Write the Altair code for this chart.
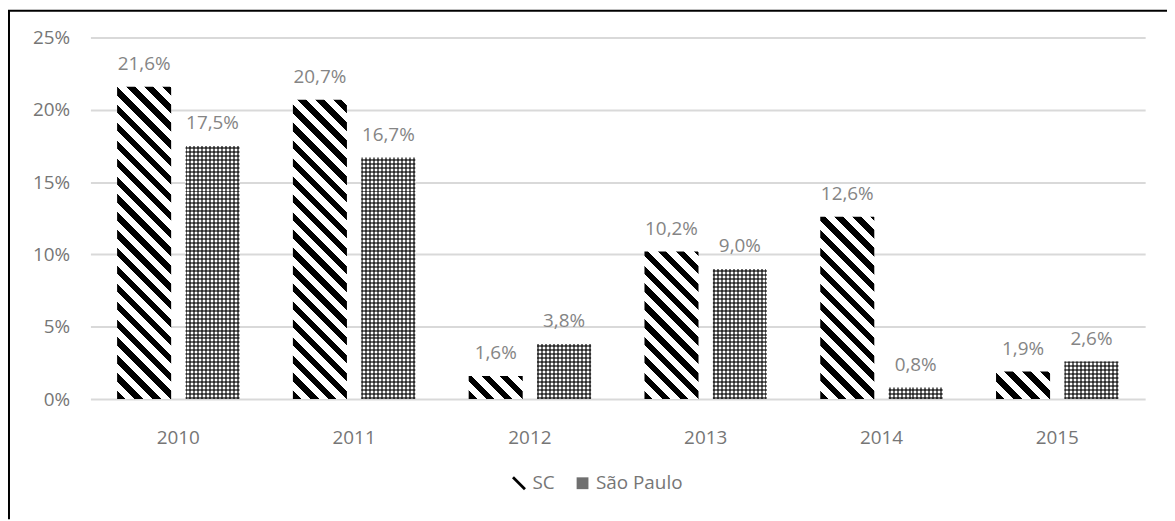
import math
import altair as alt
import pandas as pd

# ---- data ----
years = ["2010", "2011", "2012", "2013", "2014", "2015"]
series = ["SC", "São Paulo"]
sc_values = [21.6, 20.7, 1.6, 10.2, 12.6, 1.9]
sp_values = [17.5, 16.7, 3.8, 9.0, 0.8, 2.6]
y_ticks = [0, 5, 10, 15, 20, 25]

rows = []
for yr, a, b in zip(years, sc_values, sp_values):
    rows.append({"year": yr, "series": "SC", "value": a})
    rows.append({"year": yr, "series": "São Paulo", "value": b})
df = pd.DataFrame(rows)

# ---- layout / style ----
W, H = 1062, 364
YMAX = 25
PAD = {"left": 83, "top": 28, "right": 22, "bottom": 121}
FONT = "Open Sans"
FS = 19
AXIS_COLOR = "#767676"
LABEL_COLOR = "#858585"
P_INNER, P_OUTER = 0.21, 0.39
step_off = (W / len(years)) / (len(series) - P_INNER + 2 * P_OUTER)
BAR_W = step_off * (1 - P_INNER)


def r(v):
    return round(v, 5)


def diag_gradient(h, w, period=18.0, frac=0.47):
    """Diagonal '\\' stripes, black on white, with constant pixel period."""
    L = w + h
    dp = period / L
    k = L / (w * w + h * h)
    stops = []
    i = 0
    while i * dp < 1:
        s = i * dp
        e = min(s + frac * dp, 1)
        stops += [
            {"offset": r(s), "color": "white"},
            {"offset": r(s), "color": "black"},
            {"offset": r(e), "color": "black"},
            {"offset": r(e), "color": "white"},
        ]
        i += 1
    return {"gradient": "linear", "x1": 0, "y1": 1, "x2": r(k * w), "y2": r(1 - k * h), "stops": stops}


def line_gradient(length, vertical, dark, light, period=4.0, frac=0.5):
    dp = period / length
    stops = []
    i = 0
    while i * dp < 1:
        s = i * dp
        e = min(s + frac * dp, 1)
        stops += [
            {"offset": r(s), "color": light},
            {"offset": r(s), "color": dark},
            {"offset": r(e), "color": dark},
            {"offset": r(e), "color": light},
        ]
        i += 1
    if vertical:
        return {"gradient": "linear", "x1": 0, "y1": 1, "x2": 0, "y2": 0, "stops": stops}
    return {"gradient": "linear", "x1": 0, "y1": 0, "x2": 1, "y2": 0, "stops": stops}


base = alt.Chart(df)

x_enc = alt.X(
    "year:N",
    scale=alt.Scale(domain=years, paddingInner=0, paddingOuter=0),
    axis=alt.Axis(
        title=None, domain=False, ticks=False, labelPadding=30,
        labelFont=FONT, labelFontSize=FS, labelColor=AXIS_COLOR, labelAngle=0,
    ),
)
xoff_enc = alt.XOffset(
    "series:N", scale=alt.Scale(domain=series, paddingInner=P_INNER, paddingOuter=P_OUTER)
)
y_enc = alt.Y(
    "value:Q",
    scale=alt.Scale(domain=[0, YMAX], nice=False, zero=True),
    axis=alt.Axis(
        title=None, values=y_ticks, labelExpr="datum.value + '%'",
        domain=False, ticks=False, grid=True, gridColor="#d9d9d9", gridWidth=2,
        labelPadding=21, labelFont=FONT, labelFontSize=FS, labelColor=AXIS_COLOR,
    ),
)

layers = []
for yr, a, b in zip(years, sc_values, sp_values):
    # SC: diagonal stripes
    h_a = a / YMAX * H
    layers.append(
        base.transform_filter((alt.datum.year == yr) & (alt.datum.series == "SC"))
        .mark_bar(fill=diag_gradient(h_a, BAR_W), strokeWidth=0)
        .encode(x=x_enc, xOffset=xoff_enc, y=y_enc)
    )
    # São Paulo: fine grid of dots
    h_b = b / YMAX * H
    sp_filter = (alt.datum.year == yr) & (alt.datum.series == "São Paulo")
    layers.append(
        base.transform_filter(sp_filter)
        .mark_bar(fill=line_gradient(BAR_W, False, "#6a6a6a", "#ffffff"), strokeWidth=0)
        .encode(x=x_enc, xOffset=xoff_enc, y=y_enc)
    )
    layers.append(
        base.transform_filter(sp_filter)
        .mark_bar(fill=line_gradient(h_b, True, "rgba(0,0,0,0.58)", "rgba(0,0,0,0)"), strokeWidth=0)
        .encode(x=x_enc, xOffset=xoff_enc, y=y_enc)
    )

labels = (
    base.transform_calculate(
        label="replace(format(datum.value, '.1f'), '.', ',') + '%'"
    )
    .mark_text(dy=-17, baseline="alphabetic", font=FONT, fontSize=FS, color=LABEL_COLOR)
    .encode(x=x_enc, xOffset=xoff_enc, y=y_enc, text="label:N")
)

sc_path = "M-1,-0.72L-0.72,-1L1,0.72L0.72,1Z"
sq_path = "M-0.85,-0.85H0.85V0.85H-0.85Z"
legend_def = alt.Legend(title=None)
legend_layer = base.mark_point(filled=True, opacity=0).encode(
    x=x_enc,
    y=y_enc,
    color=alt.Color("series:N", scale=alt.Scale(domain=series, range=["#000000", "#6f6f6f"]), legend=legend_def),
    shape=alt.Shape("series:N", scale=alt.Scale(domain=series, range=[sc_path, sq_path]), legend=legend_def),
)

frame_df = pd.DataFrame({"k": [0]})
border_left = alt.Chart(frame_df).mark_rule(color="#000000", strokeWidth=2).encode(
    x=alt.value(-82), y=alt.value(-27), y2=alt.value(H + PAD["bottom"])
)
border_top = alt.Chart(frame_df).mark_rule(color="#000000", strokeWidth=2).encode(
    x=alt.value(-83), x2=alt.value(W + PAD["right"]), y=alt.value(-27)
)

chart = (
    alt.layer(*layers, labels, legend_layer, border_left, border_top)
    .properties(width=W, height=H, padding=PAD, autosize=alt.AutoSizeParams(type="none"))
    .configure_view(stroke=None)
    .configure_legend(
        orient="none", legendX=422, legendY=439, direction="horizontal",
        symbolSize=196, symbolOpacity=1, symbolStrokeWidth=0,
        labelFont=FONT, labelFontSize=FS, labelColor=AXIS_COLOR,
        labelOffset=4, columnPadding=18, padding=0,
    )
)

chart.save("out.html", embed_options={"renderer": "svg", "actions": False})
